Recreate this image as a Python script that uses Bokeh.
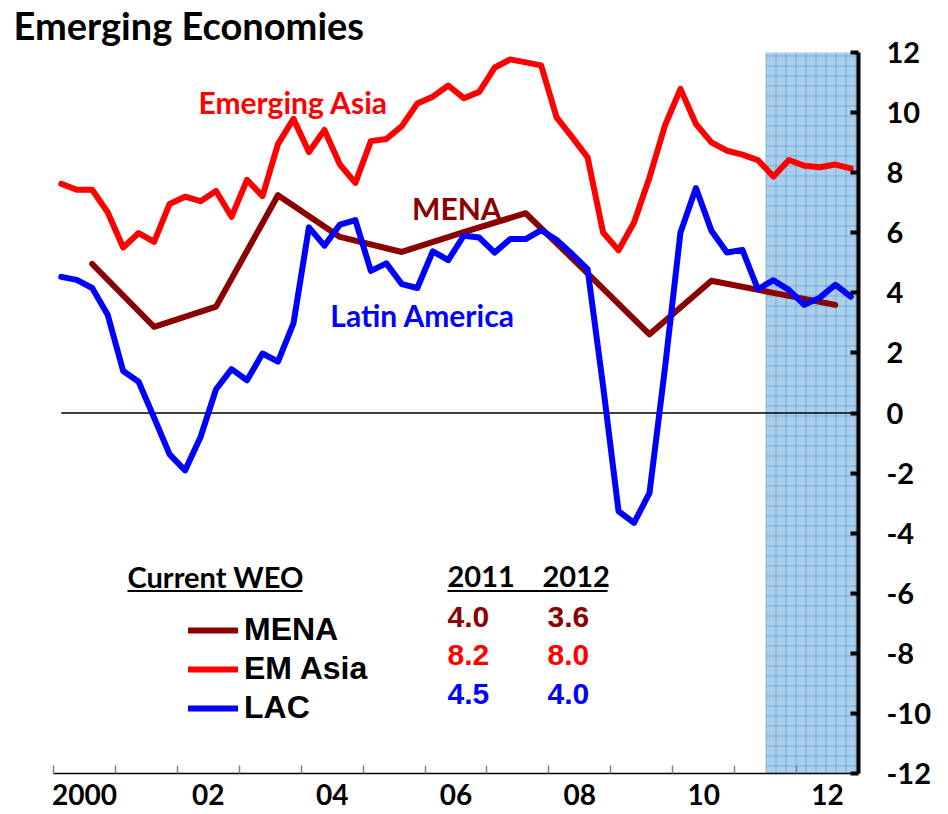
import numpy as np
from bokeh.plotting import figure
from bokeh.models import Range1d, FixedTicker, Legend, LegendItem, ColumnDataSource
from bokeh.core.properties import value
from bokeh.embed import file_html
from bokeh.resources import INLINE

# ---------------- data ----------------
# quarterly observations 2000Q1 .. 2012Q4 (plotted at mid-quarter)
quarters = np.arange(2000, 2013, 0.25) + 0.125
asia = [7.63, 7.43, 7.43, 6.68, 5.51, 5.99, 5.70, 6.96, 7.20, 7.05,
        7.39, 6.53, 7.76, 7.22, 8.95, 9.79, 8.69, 9.42, 8.27, 7.66,
        9.05, 9.12, 9.55, 10.30, 10.53, 10.90, 10.48, 10.69, 11.50, 11.77,
        11.67, 11.57, 9.84, 9.18, 8.51, 6.01, 5.42, 6.34, 7.84, 9.57,
        10.79, 9.62, 9.01, 8.73, 8.60, 8.42, 7.87, 8.42, 8.23, 8.18,
        8.27, 8.14]
latam = [4.53, 4.43, 4.16, 3.27, 1.40, 1.04, -0.16, -1.38, -1.91, -0.80,
         0.79, 1.46, 1.09, 1.98, 1.71, 2.98, 6.18, 5.57, 6.27, 6.42,
         4.73, 4.98, 4.29, 4.16, 5.38, 5.09, 5.90, 5.84, 5.34, 5.79,
         5.79, 6.09, 5.76, 5.29, 4.79, 0.90, -3.27, -3.66, -2.66, 1.50,
         6.01, 7.49, 6.07, 5.34, 5.43, 4.12, 4.42, 4.10, 3.60, 3.84,
         4.27, 3.87]
# annual MENA observations (plotted at the third quarter of each year)
years = np.arange(2000, 2013)
mena = [4.96, 2.87, 3.54, 7.25, 5.86, 5.36, 6.02, 6.65, 4.65, 2.62, 4.40, 4.00, 3.60]

series_names = ["MENA", "EM Asia", "LAC"]
weo_2011 = [4.0, 8.2, 4.5]
weo_2012 = [3.6, 8.0, 4.0]
weo_headers = ["2011", "2012"]

x_tick_labels = ["2000", "02", "04", "06", "08", "10", "12"]
y_ticks = list(range(-12, 13, 2))
forecast_start = 2011.5
forecast_end = 2013.0

# ---------------- styles / layout ----------------
C_MENA = "#8B0000"
C_ASIA = "#FF0000"
C_LAC = "#0000FF"
CAL = "Lato"
ARIAL = "Liberation Sans"

PX_YEAR = 805 / 13.0     # pixels per year
PX_UNIT = 721 / 24.0     # pixels per percentage point
X0 = 2000 - 53 / PX_YEAR  # frame extends left of 2000 to hold the title
Y1 = 12 + 52 / PX_UNIT    # frame extends above 12 to hold the title

p = figure(frame_width=858, frame_height=773,
           x_range=Range1d(X0, 2013), y_range=Range1d(-12, Y1),
           y_axis_location="right",
           output_backend="svg", toolbar_location=None,
           min_border_left=0, min_border_right=80,
           min_border_top=0, min_border_bottom=41)
p.grid.visible = False
p.outline_line_color = None
p.background_fill_color = "white"

# forecast shading
p.quad(left=[forecast_start], right=[forecast_end], bottom=[-12], top=[12],
       fill_color="#acd0eb", line_color=None,
       hatch_pattern="+", hatch_color="#3a88d0", hatch_scale=10,
       hatch_weight=1, hatch_alpha=0.5)

# zero line
p.line(x=[quarters[0], forecast_end], y=[0, 0], line_color="black", line_width=1.5)

# series
r_mena = p.line(years + 0.625, mena, line_color=C_MENA, line_width=6,
                line_join="round", line_cap="round")
r_asia = p.line(quarters, asia, line_color=C_ASIA, line_width=6,
                line_join="round", line_cap="round")
r_lac = p.line(quarters, latam, line_color=C_LAC, line_width=6,
               line_join="round", line_cap="round")

# x axis: labels centred in each labelled year, small ticks at year boundaries
label_pos = [2000.5 + 2 * i for i in range(len(x_tick_labels))]
xa = p.xaxis[0]
xa.bounds = (2000, 2013)
xa.ticker = FixedTicker(ticks=label_pos, minor_ticks=list(range(2000, 2014)))
xa.major_label_overrides = {pos: lab for pos, lab in zip(label_pos, x_tick_labels)}
xa.major_tick_line_color = None
xa.minor_tick_line_color = "#808080"
xa.minor_tick_line_width = 1.5
xa.minor_tick_in = 8
xa.minor_tick_out = 0
xa.axis_line_color = "black"
xa.axis_line_width = 1.5
xa.major_label_text_font = CAL
xa.major_label_text_font_style = "bold"
xa.major_label_text_font_size = "28px"
xa.major_label_text_color = "black"
xa.major_label_standoff = 4

# right y axis
ya = p.yaxis[0]
ya.bounds = (-12, 12)
ya.ticker = FixedTicker(ticks=y_ticks, minor_ticks=[])
ya.major_label_overrides = {t: str(t) for t in y_ticks}
ya.major_tick_in = 8
ya.major_tick_out = 0
ya.major_tick_line_width = 4
ya.major_tick_line_color = "black"
ya.minor_tick_line_color = None
ya.axis_line_width = 4
ya.axis_line_color = "black"
ya.major_label_text_font = CAL
ya.major_label_text_font_style = "bold"
ya.major_label_text_font_size = "29px"
ya.major_label_text_color = "black"
ya.major_label_standoff = 28

# title (inside the extended frame area, top-left)
p.text(x=[1999.354], y=[12.899], text=["Emerging Economies"],
       text_font=value(CAL), text_font_style="bold", text_font_size="38px",
       text_color="black", text_baseline="alphabetic")

# in-chart series labels
lab_src = ColumnDataSource(dict(
    x=[2002.342, 2005.79, 2004.47], y=[10.356, 6.81, 3.27],
    text=["Emerging Asia", "MENA", "Latin America"],
    color=[C_ASIA, C_MENA, C_LAC]))
p.text(x="x", y="y", text="text", text_color="color", source=lab_src,
       text_font=value(CAL), text_font_style="bold", text_font_size="30px",
       text_baseline="alphabetic")

# WEO table headers
hdr_src = ColumnDataSource(dict(x=[2001.195, 2006.363, 2007.897], y=[-5.43] * 3,
                                text=["Current WEO"] + weo_headers))
p.text(x="x", y="y", text="text", source=hdr_src, text_color="black",
       text_font=value(CAL), text_font_style="bold", text_font_size="29px",
       text_baseline="middle")
p.segment(x0=[2001.195, 2006.363], x1=[2004.021, 2008.947],
          y0=[-5.925, -5.925], y1=[-5.925, -5.925], line_color="black", line_width=2)

# WEO numbers
row_y = [-6.79, -8.06, -9.35]
row_col = [C_MENA, C_ASIA, C_LAC]
num_src = ColumnDataSource(dict(
    x=[2006.363] * 3 + [2007.978] * 3,
    y=row_y + row_y,
    text=[f"{v:.1f}" for v in weo_2011] + [f"{v:.1f}" for v in weo_2012],
    color=row_col + row_col))
p.text(x="x", y="y", text="text", text_color="color", source=num_src,
       text_font=value(ARIAL), text_font_style="bold", text_font_size="30px",
       text_baseline="middle")

# legend
legend = Legend(items=[LegendItem(label=n, renderers=[r]) for n, r in
                       zip(series_names, [r_mena, r_asia, r_lac])],
                location=(188, 47), orientation="vertical",
                glyph_width=50, glyph_height=20, label_standoff=6, spacing=2,
                padding=0, margin=0, border_line_color=None,
                background_fill_alpha=0,
                label_text_font=ARIAL, label_text_font_style="bold",
                label_text_font_size="32px", label_text_color="black")
p.add_layout(legend)

open("out.html", "w").write(file_html(p, INLINE))
